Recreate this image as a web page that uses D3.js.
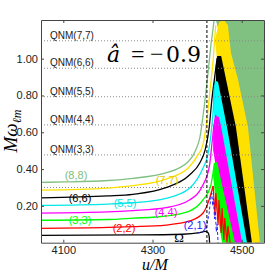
<!DOCTYPE html>
<meta charset="utf-8">
<body style="margin:0;background:#fff">
<svg width="266" height="275" style="display:block"></svg>
</body>
<script src="https://d3js.org/d3.v7.min.js"></script>
<script>
// ticks
var uTicks = [4100, 4300, 4500];
var wTicks = [0.2, 0.4, 0.6, 0.8, 1.0];

// QNM ringdown frequencies (dotted)
var qnmNames = ["QNM(7,7)", "QNM(6,6)", "QNM(5,5)", "QNM(4,4)", "QNM(3,3)", ""];
var qnmFreq = [1.097, 0.948, 0.793, 0.640, 0.477, 0.300];

// time of merger (dashed)
var mergerU = 4422;

// inspiral frequencies, [u/M, M omega]
var omega88 = [[4050,0.328],[4102,0.330],[4200,0.338],[4256,0.350],[4330,0.379],[4380,0.440],[4397,0.504],[4406,0.569],[4415,0.722],[4424,0.911],[4431,1.074],[4438,1.21],[4440,1.264]];
var omega77 = [[4050,0.286],[4200,0.297],[4256,0.310],[4330,0.346],[4380,0.406],[4402,0.477],[4413,0.531],[4422,0.667],[4429,0.830],[4436,0.993],[4440,1.128],[4442,1.183]];
var omega66 = [[4050,0.244],[4200,0.254],[4256,0.263],[4330,0.299],[4383,0.368],[4406,0.433],[4418,0.504],[4427,0.623],[4433,0.775],[4440,0.911],[4445,1.003]];
var omega55 = [[4050,0.203],[4200,0.210],[4256,0.217],[4330,0.241],[4383,0.296],[4413,0.404],[4424,0.477],[4431,0.585],[4436,0.721],[4439,0.857]];
var omega44 = [[4050,0.161],[4200,0.167],[4256,0.174],[4330,0.190],[4383,0.232],[4413,0.313],[4428,0.422],[4433,0.531],[4438,0.640],[4442,0.694]];
var omega33 = [[4050,0.122],[4200,0.126],[4256,0.133],[4330,0.145],[4383,0.172],[4413,0.232],[4430,0.304],[4436,0.384],[4439,0.433]];
var omega22 = [[4050,0.078],[4200,0.083],[4256,0.087],[4330,0.096],[4383,0.118],[4413,0.160],[4428,0.241],[4436,0.308]];
var omegaOrb = [[4050,0.040],[4256,0.042],[4368,0.046],[4406,0.055],[4418,0.061],[4424,0.055],[4427,0.036],[4428,-0.002]];
var omega21 = [[4400,0.052],[4412,0.058],[4420,0.075],[4427,0.16],[4431,0.25],[4433,0.27],[4435,0.2],[4437,0.24],[4439,0.13],[4441,0.17],[4443,0.06],[4445,0.1],[4447,0]];

// noisy post-merger part of (2,2)
var ring22 = [[4436,0.308],[4440,0.150],[4442,0.270],[4447,0.096],[4449,0.232],[4454,0.053],[4456,0.189],[4460,0.015],[4462,0.134],[4467,0],[4469,0.091],[4474,0]];

// post-merger bands (outline of the oscillating region)
var band88 = [[4442,1.21],[4550,1.21],[4550,0],[4530,0],[4478,0.775],[4451,1.128]];
var band77 = [[4449,1.199],[4460,1.21],[4469,1.183],[4476,1.031],[4492,0.884],[4514,0.629],[4541,0],[4514,0],[4447,0.939],[4440,1.101]];
var band66 = [[4445,1.014],[4454,1.014],[4487,0.629],[4523,0],[4498,0],[4442,0.775],[4442,0.966]];
var band55 = [[4438,0.884],[4447,0.873],[4467,0.629],[4512,0],[4487,0],[4436,0.721],[4436,0.830]];
var band44 = [[4442,0.688],[4449,0.683],[4454,0.629],[4501,0],[4469,0],[4436,0.504],[4436,0.629]];
var band33 = [[4438,0.433],[4445,0.438],[4456,0.313],[4485,0],[4456,0],[4442,0.205],[4436,0.368]];

var svg = d3.select("svg");
var x = d3.scaleLinear().domain([4050, 4550]).range([41, 264]);
var y = d3.scaleLinear().domain([0, 1.21]).range([242.7, 20]);

svg.append("clipPath").attr("id", "clip")
  .append("rect").attr("x", 41).attr("y", 20).attr("width", 223).attr("height", 222.7);

var plot = svg.append("g").attr("clip-path", "url(#clip)");

var line = d3.line().x(function(d) { return x(d[0]); }).y(function(d) { return y(d[1]); });
var smooth = d3.line().curve(d3.curveMonotoneX).x(function(d) { return x(d[0]); }).y(function(d) { return y(d[1]); });

// bands, back to front
var bands = [[band88, "#80c080"], [band77, "#ffe100"], [band66, "#000"], [band55, "#00ffff"], [band44, "#ff00ff"], [band33, "#00ff00"]];
bands.forEach(function(b) {
  plot.append("path").attr("d", line(b[0]) + "Z").attr("fill", b[1]).attr("stroke", "none");
});

// qnm dotted lines
plot.selectAll(".qnm").data(qnmFreq).enter().append("line")
  .attr("x1", 41).attr("x2", 264)
  .attr("y1", function(d) { return y(d); }).attr("y2", function(d) { return y(d); })
  .attr("stroke", "#8a8a8a").attr("stroke-width", 1).attr("stroke-dasharray", "1,2");

// inspiral curves
var curves = [[omega88, "#80c080"], [omega77, "#ffe100"], [omega66, "#000"], [omega55, "#00e8e8"],
              [omega44, "#ff00ff"], [omega33, "#00ff00"], [omega22, "#ff0000"], [omegaOrb, "#000"]];
curves.forEach(function(c) {
  plot.append("path").attr("d", smooth(c[0])).attr("fill", "none")
    .attr("stroke", c[1]).attr("stroke-width", 1.3);
});

plot.append("path").attr("d", line(ring22)).attr("fill", "none")
  .attr("stroke", "#ff0000").attr("stroke-width", 1.2);

plot.append("path").attr("d", line(omega21)).attr("fill", "none")
  .attr("stroke", "#2020ff").attr("stroke-width", 1).attr("stroke-dasharray", "3,2");

plot.append("line")
  .attr("x1", x(mergerU)).attr("x2", x(mergerU)).attr("y1", 20).attr("y2", 242.7)
  .attr("stroke", "#000").attr("stroke-width", 1).attr("stroke-dasharray", "3,2");

// axes, ticks inside
function styleAxis(g) {
  g.selectAll("path, line").attr("stroke", "#444");
  g.selectAll("text").attr("font-family", "Liberation Sans, Arial, sans-serif")
    .attr("font-size", 11).attr("fill", "#222");
}
svg.append("g").attr("transform", "translate(0,242.7)")
  .call(d3.axisBottom(x).tickValues(uTicks).tickSize(-3).tickSizeOuter(0).tickPadding(4).tickFormat(d3.format("d")))
  .call(styleAxis);
svg.append("g").attr("transform", "translate(0,20)")
  .call(d3.axisTop(x).tickValues(uTicks).tickSize(-3).tickSizeOuter(0).tickFormat(""))
  .call(styleAxis);
svg.append("g").attr("transform", "translate(41,0)")
  .call(d3.axisLeft(y).tickValues(wTicks).tickSize(-3).tickSizeOuter(0).tickPadding(3).tickFormat(d3.format(".2f")))
  .call(styleAxis);
svg.append("g").attr("transform", "translate(264,0)")
  .call(d3.axisRight(y).tickValues(wTicks).tickSize(-3).tickSizeOuter(0).tickFormat(""))
  .call(styleAxis);

// qnm labels
svg.selectAll(".qnmlab").data(qnmNames).enter().append("text")
  .attr("x", 50).attr("y", function(d, i) { return y(qnmFreq[i]) - 2; })
  .attr("font-family", "Liberation Sans, Arial, sans-serif").attr("font-size", 10).attr("fill", "#222")
  .text(function(d) { return d; });

// curve labels
var labs = [["(8,8)", 76, 179, "#80c080"], ["(7,7)", 167, 184, "#e8c800"], ["(6,6)", 80, 202, "#000"],
            ["(5,5)", 125, 207, "#00e8e8"], ["(4,4)", 166, 216, "#ff00ff"], ["(3,3)", 80, 224, "#00ff00"],
            ["(2,2)", 124, 232, "#ff0000"], ["(2,1)", 195, 229, "#2020ff"]];
labs.forEach(function(l) {
  svg.append("text").attr("x", l[1]).attr("y", l[2]).attr("text-anchor", "middle")
    .attr("font-family", "Liberation Sans, Arial, sans-serif").attr("font-size", 11).attr("fill", l[3])
    .text(l[0]);
});
svg.append("text").attr("x", 179).attr("y", 242).attr("text-anchor", "middle")
  .attr("font-family", "Liberation Serif, serif").attr("font-size", 13).attr("fill", "#000").text("Ω");

// spin annotation
svg.append("text").attr("x", 107).attr("y", 62).attr("font-family", "DejaVu Serif, serif").attr("font-style", "italic")
  .attr("font-size", 22).text("â");
svg.append("text").attr("x", 131).attr("y", 62).attr("font-family", "Liberation Serif, serif").attr("font-size", 24).text("=");
svg.append("text").attr("x", 150).attr("y", 62).attr("font-family", "Liberation Serif, serif").attr("font-size", 24).text("−");
svg.append("text").attr("x", 166).attr("y", 62).attr("font-family", "DejaVu Serif, serif").attr("font-size", 22).text("0.9");

// axis titles
var yl = svg.append("text").attr("transform", "translate(17,131) rotate(-90)").attr("text-anchor", "middle")
  .attr("font-family", "Liberation Serif, serif").attr("font-style", "italic").attr("font-size", 19);
yl.append("tspan").text("Mω");
yl.append("tspan").attr("dy", 4).attr("font-size", 12).text("ℓm");
svg.append("text").attr("x", 155).attr("y", 270).attr("text-anchor", "middle")
  .attr("font-family", "Liberation Serif, serif").attr("font-style", "italic").attr("font-size", 16).text("u/M");
</script>
